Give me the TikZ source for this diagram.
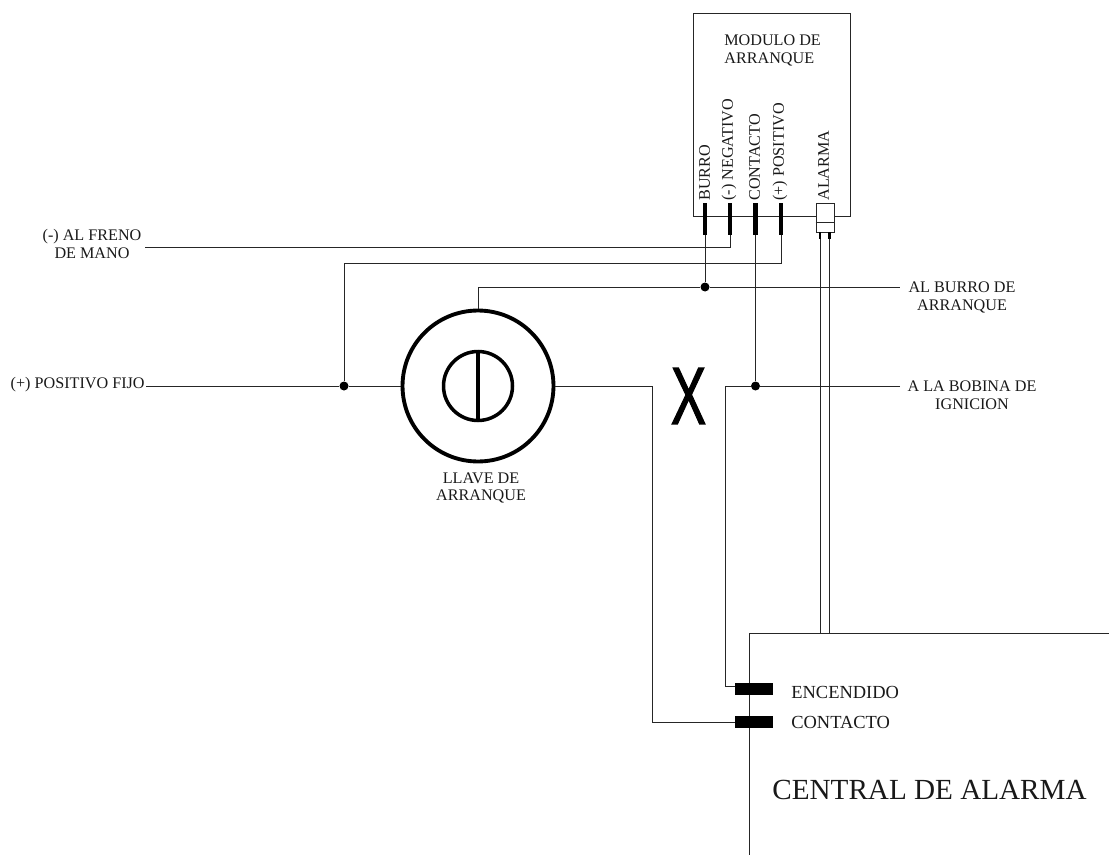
\documentclass[tikz,border=0pt]{standalone}
\usepackage{fontspec}
\setmainfont{Liberation Serif}
\newfontfamily\bigsans[FakeBold=1.8]{Liberation Sans}
\tikzset{
	wire/.style={line width=0.5pt, draw=black!85},
	dot/.style={circle, fill=black, inner sep=0pt, minimum size=0.18cm},
	pin/.style={rectangle, fill=black, inner sep=0pt, minimum width=0.09cm, minimum height=0.64cm},
	pad/.style={rectangle, fill=black, inner sep=0pt, minimum width=0.76cm, minimum height=0.24cm},
	label/.style={inner sep=0pt, text=black!90, font=\fontsize{9.2}{10.2}\selectfont},
	pinlabel/.style={label, rotate=90, anchor=west}
}
\begin{document}
\begin{tikzpicture}[x=0.02cm, y=-0.02cm]
	\useasboundingbox (0,0) rectangle (1109,855);
	
	% Named free ends and bends
	\coordinate (frenoEnd) at (145,247);
	\coordinate (fijoEnd) at (146,386);
	\coordinate (burroEnd) at (900,287);
	\coordinate (bobinaEnd) at (900,386);
	\coordinate (bendPositivo) at (344,263);
	\coordinate (bendLlave) at (652,386);
	\coordinate (bendBobina) at (725,386);
	\coordinate (tapEncendido) at (735,686);
	\coordinate (centralCorner) at (749,633);
	\coordinate (centralEnd) at (749,855);
	\coordinate (centralRight) at (1109,633);
	\coordinate (alarmaA) at (820,232);
	\coordinate (alarmaB) at (829.5,232);
	\coordinate (alarmaAend) at (820,239);
	\coordinate (alarmaBend) at (829.5,239);
	
	% Draw module box
	\node[draw, wire, inner sep=0pt, minimum width=3.14cm, minimum height=4.06cm] (modulo) at (772,115.3) {};
	\node[label, anchor=west, align=left] (moduloLabel) at (724,50) {MODULO DE\\ARRANQUE};
	
	% Draw module pins
	\node[pin] (pinBurro) at (705,219) {};
	\node[pin] (pinNegativo) at (730,219) {};
	\node[pin] (pinContacto) at (755.5,219) {};
	\node[pin] (pinPositivo) at (781,219) {};
	
	% Label module pins
	\node[pinlabel] (labelBurro) at (704.5,201) {BURRO};
	\node[pinlabel] (labelNegativo) at (729,201) {(-) NEGATIVO};
	\node[pinlabel] (labelContacto) at (754.5,201) {CONTACTO};
	\node[pinlabel] (labelPositivo) at (780,201) {(+) POSITIVO};
	\node[pinlabel] (labelAlarma) at (823.5,201) {ALARMA};
	
	% Draw alarm connector
	\node[draw, wire, fill=white, inner sep=0pt, minimum width=0.36cm, minimum height=0.58cm] (conAlarma) at (825,217.5) {};
	\coordinate (midAlarma) at (825,222);
	\draw[wire] (conAlarma.west |- midAlarma) -- (conAlarma.east |- midAlarma);
	\draw[line width=1.4pt] (alarmaA) -- (alarmaAend) (alarmaB) -- (alarmaBend);
	
	% Draw key switch
	\node[draw, circle, line width=2.2pt, inner sep=0pt, minimum size=3.02cm] (llave) at (478,386) {};
	\node[draw, circle, line width=2pt, inner sep=0pt, minimum size=1.38cm] (cilindro) at (478,386) {};
	\draw[line width=2pt] (cilindro.north) -- (cilindro.south);
	\node[label, align=center] (llaveLabel) at (481,488) {LLAVE DE\\ARRANQUE};
	
	% Draw junctions
	\node[dot] (dotPositivo) at (344,386) {};
	\node[dot] (dotBurro) at (705,287) {};
	\node[dot] (dotContacto) at (755.5,386) {};
	
	% Draw central box
	\draw[wire] (centralEnd) -- (centralCorner) -- (centralRight);
	\node[pad] (padEncendido) at (754,688.5) {};
	\node[pad] (padContacto) at (754,722) {};
	
	% Draw wires
	\draw[wire] (frenoEnd) -| (pinNegativo.south);
	\draw[wire] (dotPositivo) -- (bendPositivo) -| (pinPositivo.south);
	\draw[wire] (pinBurro.south) -- (dotBurro);
	\draw[wire] (llave.north) |- (dotBurro) -- (burroEnd);
	\draw[wire] (fijoEnd) -- (dotPositivo) -- (llave.west);
	\draw[wire] (llave.east) -- (bendLlave) |- (padContacto.west);
	\draw[wire] (pinContacto.south) -- (dotContacto);
	\draw[wire] (bobinaEnd) -- (dotContacto) -- (bendBobina) |- (tapEncendido);
	\draw[wire] (alarmaAend) -- (alarmaAend |- centralCorner);
	\draw[wire] (alarmaBend) -- (alarmaBend |- centralCorner);
	
	% Label wires
	\node[label, align=center] (frenoLabel) at (92,244) {(-) AL FRENO\\DE MANO};
	\node[label, anchor=east] (fijoLabel) at (145,385) {(+) POSITIVO FIJO};
	\node[label, align=center] (burroLabel) at (962,297) {AL BURRO DE\\ARRANQUE};
	\node[label, align=center] (bobinaLabel) at (972,395.5) {A LA BOBINA DE\\IGNICION};
	
	% Cut mark
	\node[inner sep=0pt, xscale=0.65, font=\bigsans\fontsize{46}{46}\selectfont] (corte) at (688.5,396) {X};
	
	% Label central
	\node[label, anchor=west, font=\fontsize{10.5}{12}\selectfont] (encendidoLabel) at (791,692) {ENCENDIDO};
	\node[label, anchor=west, font=\fontsize{10.5}{12}\selectfont] (contactoLabel) at (791,722) {CONTACTO};
	\node[label, anchor=west, font=\fontsize{16.6}{18}\selectfont] (centralLabel) at (772,790) {CENTRAL DE ALARMA};
	
\end{tikzpicture}
\end{document}
